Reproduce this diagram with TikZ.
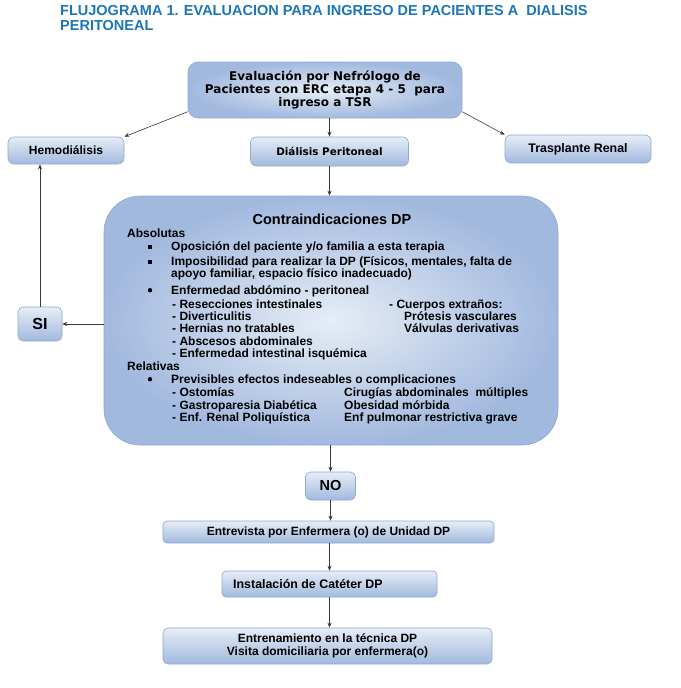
\documentclass[tikz,border=0pt]{standalone}
\usepackage{fontspec}
\setmainfont{Liberation Sans}
\newfontfamily\verd{DejaVu Sans}
\usetikzlibrary{arrows.meta,shadings}
\definecolor{titleblue}{HTML}{1C76B8}
\definecolor{boxlight}{HTML}{E6EDF6}
\definecolor{boxdark}{HTML}{A2B9DE}
\definecolor{boxborder}{HTML}{8DAAD5}
\definecolor{arrowgray}{HTML}{3A3A3A}
\newcommand{\sqb}{\raisebox{1.2pt}{\rule{3.4pt}{3.4pt}}}
\begin{document}
\begin{tikzpicture}[x=1pt,y=-1pt,
  vbox/.style={draw=boxborder,line width=0.6pt,rounded corners=6pt,top color=boxlight,bottom color=boxdark,
     inner sep=0pt,align=center,font=\fontsize{12}{13}\selectfont\bfseries},
  rbox/.style={draw=boxborder,line width=0.6pt,inner color=boxlight,outer color=boxdark,inner sep=0pt,align=center},
  conn/.style={draw=arrowgray,line width=0.6pt,-{Stealth[length=5pt,width=4pt]}},
  bt/.style={anchor=base west,inner sep=0pt,font=\fontsize{12}{13}\selectfont\bfseries},
  dotb/.style={circle,fill=black,inner sep=0pt,minimum size=4.4pt},
]
\useasboundingbox (0,0) rectangle (680,688);
\fill[white] (0,0) rectangle (680,688);
% title
\node[anchor=base west,inner sep=0pt,text=titleblue,font=\fontsize{14.5}{16}\selectfont\bfseries] (t1) at (60,16) {FLUJOGRAMA 1. EVALUACION PARA INGRESO DE PACIENTES A \ DIALISIS};
\node[anchor=base west,inner sep=0pt,text=titleblue,font=\fontsize{14.5}{16}\selectfont\bfseries] (t2) at (60,30) {PERITONEAL};
% boxes
\node[rbox,rounded corners=10pt,minimum width=274pt,minimum height=56pt,font=\verd\fontsize{12}{13}\selectfont\bfseries] (top) at (325,90)
  {Evaluación por Nefrólogo de\\Pacientes con ERC etapa 4 - 5 \ para\\ingreso a TSR};
\node[vbox,minimum width=116pt,minimum height=27pt] (hemo) at (66,150.5) {Hemodiálisis};
\node[vbox,minimum width=158pt,minimum height=29pt,font=\verd\fontsize{10.4}{12}\selectfont\bfseries] (dp) at (329.5,151.5) {Diálisis Peritoneal};
\node[vbox,minimum width=146pt,minimum height=28pt,font=\fontsize{12.4}{13}\selectfont\bfseries] (tr) at (578,149) {Trasplante Renal};
\node[rbox,rounded corners=36pt,minimum width=454pt,minimum height=249pt] (big) at (331,320.5) {};
\node[vbox,rounded corners=5pt,minimum width=44pt,minimum height=34pt,font=\fontsize{16}{18}\selectfont\bfseries] (si) at (40,324) {SI};
\node[vbox,rounded corners=5pt,minimum width=50pt,minimum height=28pt,font=\fontsize{14.5}{16}\selectfont\bfseries] (no) at (330.5,486) {NO};
\node[vbox,rounded corners=4pt,minimum width=331pt,minimum height=22pt] (ent) at (328.5,532) {Entrevista por Enfermera (o) de Unidad DP};
\node[vbox,rounded corners=4pt,minimum width=215pt,minimum height=26pt] (ins) at (329.5,584) {};
\node[anchor=west,inner sep=0pt,font=\fontsize{12.4}{13}\selectfont\bfseries] (inst) at (233,584) {Instalación de Catéter DP};
\node[vbox,rounded corners=5pt,minimum width=329pt,minimum height=36pt] (tra) at (327.5,646) {Entrenamiento en la técnica DP\\Visita domiciliaria por enfermera(o)};
% big box text
\node[anchor=base,inner sep=0pt,font=\fontsize{14.5}{16}\selectfont\bfseries] (ch) at (332,224) {Contraindicaciones DP};
\node[bt] (a0) at (127,237) {Absolutas};
\node[bt] (b1) at (148,250) {\sqb};
\node[bt] (a1) at (171,250) {Oposición del paciente y/o familia a esta terapia};
\node[bt] (b2) at (148,265) {\sqb};
\node[bt] (a2) at (171,265) {Imposibilidad para realizar la DP (Físicos, mentales, falta de};
\node[bt] (a3) at (171,277) {apoyo familiar, espacio físico inadecuado)};
\node[dotb] (b3) at (150,290.2) {};
\node[bt] (a4) at (171,294) {Enfermedad abdómino - peritoneal};
\node[bt] (c1) at (172,308) {- Resecciones intestinales};
\node[bt] (c2) at (172,320) {- Diverticulitis};
\node[bt] (c3) at (172,332) {- Hernias no tratables};
\node[bt] (c4) at (172,345) {- Abscesos abdominales};
\node[bt] (c5) at (172,357) {- Enfermedad intestinal isquémica};
\node[bt] (d1) at (389,308) {- Cuerpos extraños:};
\node[bt] (d2) at (404,320) {Prótesis vasculares};
\node[bt] (d3) at (404,332) {Válvulas derivativas};
\node[bt] (r0) at (127,370) {Relativas};
\node[dotb] (b4) at (150,379.2) {};
\node[bt] (r1) at (171,383) {Previsibles efectos indeseables o complicaciones};
\node[bt] (e1) at (172,396) {- Ostomías};
\node[bt] (e2) at (172,409) {- Gastroparesia Diabética};
\node[bt] (e3) at (172,421) {- Enf. Renal Poliquística};
\node[bt] (f1) at (344,396) {Cirugías abdominales \ múltiples};
\node[bt] (f2) at (344,409) {Obesidad mórbida};
\node[bt] (f3) at (344,421) {Enf pulmonar restrictiva grave};
% connectors
\draw[conn] (top.189) -- (hemo.north east);
\draw[conn] (top.south -| dp.north) -- (dp.north);
\draw[conn] (top.351) -- (tr.north west);
\draw[conn] (dp.south) -- (big.north -| dp.south);
\draw[conn] (big.west |- si.east) -- (si.east);
\draw[conn] (si.north) -- (si.north |- hemo.south);
\draw[conn] (big.south -| no.north) -- (no.north);
\draw[conn] (no.south) -- (no.south |- ent.north);
\draw[conn] (ent.south -| ins.north) -- (ins.north);
\draw[conn] (ins.south) -- (ins.south |- tra.north);
\end{tikzpicture}
\end{document}
